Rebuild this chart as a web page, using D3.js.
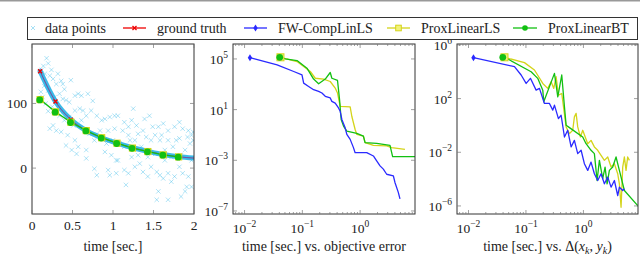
<!DOCTYPE html>
<html>
<head>
<meta charset="utf-8">
<script src="https://cdn.jsdelivr.net/npm/d3@7"></script>
<style>
  html, body { margin: 0; padding: 0; background: #fff; }
  svg { display: block; }
  svg text { font-family: 'Liberation Serif', 'DejaVu Serif', serif; }
</style>
</head>
<body>
<svg id="chart" width="640" height="255"></svg>
<script>
// ---- data ----
const legendNames = ['data points', 'ground truth', 'FW-CompLinLS', 'ProxLinearLS', 'ProxLinearBT'];

// left panel: noisy samples [time, value]
const dataPoints = [
  [0.18,170],[0.20,162],[0.14,158],[0.12,152],[0.24,152],[0.16,146],[0.22,143],[0.26,138],[0.32,146],[0.36,135],
  [0.30,130],[0.38,130],[0.48,136],[0.40,122],[0.34,115],[0.28,110],[0.20,120],[0.38,107],[0.42,105],[0.46,102],
  [0.53,112],[0.57,115],[0.61,112],[0.69,115],[0.75,104],[0.59,92],[0.63,89],[0.53,89],[0.67,81],[0.73,89],
  [0.80,81],[0.86,74],[0.90,76],[0.96,79],[1.02,81],[1.06,81],[1.14,71],[1.23,74],[1.25,92],[1.19,64],
  [1.29,66],[1.39,76],[1.45,81],[1.49,64],[1.56,64],[1.62,69],[1.68,58],[1.76,64],[1.82,71],[1.86,61],
  [1.93,58],[1.97,51],[1.99,56],[0.26,66],[0.22,61],[0.30,58],[0.36,56],[0.44,51],[0.42,35],[0.53,43],
  [0.49,28],[0.57,33],[0.67,28],[0.55,22],[0.67,15],[0.77,-1],[0.80,-11],[0.94,-3],[0.96,-11],[1.04,-8],
  [1.06,12],[1.14,-3],[1.19,-8],[1.16,-26],[1.27,2],[1.33,7],[1.37,-6],[1.43,-13],[1.47,2],[1.54,-6],
  [1.58,-11],[1.62,-16],[1.68,-8],[1.72,-21],[1.76,-13],[1.82,2],[1.86,-8],[1.93,-13],[1.97,-29],[1.91,-29],
  [1.56,-36],[1.54,-49],[1.68,-49],[1.84,-44],[1.89,-36],[0.34,81],[0.40,74],[0.46,79],[0.51,66],[0.61,74],
  [0.71,53],[0.77,43],[0.84,48],[0.92,38],[1.00,43],[1.08,38],[1.14,33],[1.21,43],[1.27,43],[1.35,33],
  [1.41,48],[1.47,43],[1.58,43],[1.64,28],[1.74,33],[1.78,43],[1.89,28],[1.95,38],[1.99,43],[0.90,25],
  [0.98,20],[1.04,12],[1.23,17],[1.31,20],[1.43,17],[1.52,22],[1.64,12],[1.72,17],[1.84,20],[1.97,12],
  [0.84,58],[0.94,58],[1.02,61],[1.12,58],[1.19,51],[1.31,53],[1.37,58],[1.52,51],[1.60,51],[1.68,43],
  [1.82,46],[1.92,48],[0.11,118],[0.15,127],[0.13,110],[0.17,100],[0.25,95],[0.20,88]
];
const truthTime  = [0.1, 0.29, 0.48, 0.67, 0.86, 1.05, 1.24, 1.43, 1.62, 1.81, 2.0];
const truthValue = [150, 103, 75, 58, 47, 38.5, 31.5, 26, 21, 17.5, 15.5];
const fitTime    = [0.1, 0.29, 0.48, 0.67, 0.86, 1.05, 1.24, 1.43, 1.62, 1.81];
const fitBTValue = [106, 87, 71, 58, 47, 38.5, 31, 25.6, 20.5, 17.4];

// middle panel: time vs objective error
const objFW = [[0.0124,1.26e5],[0.0366,3.39e4],[0.071,1.02e4],[0.0986,5.6e3],[0.1054,1.23e3],[0.1285,676],
  [0.1567,372],[0.1914,275],[0.2183,204],[0.2495,112],[0.3041,83],[0.3243,44.7],[0.3707,33],[0.4227,13.5],
  [0.4519,7.4],[0.4831,1.66],[0.5508,0.363],[0.5888,0.11],[0.673,0.0447],[0.767,0.01],[0.82,0.00398],
  [1.303,0.00398],[1.698,0.00219],[1.936,8.9e-4],[2.213,3.6e-4],[2.523,2.0e-4],[2.884,7.9e-5],[3.758,6.0e-5],
  [4.009,1.78e-5],[4.581,2.95e-6],[4.898,8.9e-7]];
const objLS = [[0.0418,1.35e5],[0.0809,6.2e4],[0.1374,1.02e4],[0.1675,3.0e3],[0.2333,2.57e3],[0.3041,1.66e3],
  [0.3707,501],[0.4064,204],[0.4519,18.2],[0.673,16.2],[0.718,3.0],[0.82,0.269],[0.877,0.11],[1.14,0.0813],
  [1.219,0.0245],[1.698,0.0151],[2.884,0.0135],[3.516,0.01],[5.97,0.0074]];
const objBT = [[0.0406,1.35e5],[0.0509,1.0e5],[0.0809,7.4e4],[0.1202,1.86e4],[0.1567,2.57e3],[0.1914,1.1e3],
  [0.2495,2.57e3],[0.3041,8.5e3],[0.3243,3.0e3],[0.4064,2.0e3],[0.4406,61.7],[0.4699,1.66],[0.5164,0.5],
  [0.5888,0.2],[0.877,0.135],[1.14,0.0813],[1.219,0.0245],[1.936,0.0219],[3.289,0.0151],[3.656,0.00195],
  [10,0.00195]];

// right panel: time vs Delta(x_k, y_k)
const dltFW = [[0.01222,1.12e5],[0.0631,2.4e4],[0.0824,5.75e3],[0.1007,1.35e3],[0.1197,3.24e3],[0.1503,427],
  [0.1718,575],[0.2099,43.7],[0.2564,43.7],[0.2931,13.8],[0.3133,32.4],[0.3673,3.24],[0.4093,5.75],
  [0.4677,0.138],[0.5333,0.437],[0.6109,0.0251],[0.6966,0.0776],[0.7962,0.00794],[0.912,0.0141],
  [1.04,0.00141],[1.189,4.47e-4],[1.358,0.00186],[1.552,2.51e-4],[1.774,7.9e-5],[2.028,2.51e-4],
  [2.317,4.47e-5],[2.649,1.41e-4],[3.027,2.51e-5],[3.459,7.9e-5],[3.954,6.0e-6],[4.227,2.51e-5],
  [4.831,1.41e-5],[5.164,1.9e-5]];
const dltLS = [[0.0423,1.2e5],[0.0942,4.8e4],[0.1406,1.35e4],[0.1963,1.35e3],[0.2393,575],[0.2742,1.82e3],
  [0.3048,575],[0.335,4.27e3],[0.3673,182],[0.4198,240],[0.5,0.776],[0.5715,0.245],[0.6516,0.437],
  [0.6966,4.37],[0.7464,7.94],[0.7962,0.776],[0.8872,0.138],[0.9727,0.437],[1.189,0.0437],[1.358,0.0776],
  [1.552,0.0251],[1.774,0.0141],[2.028,0.00589],[2.317,0.00251],[2.649,0.00447],[3.027,7.9e-4],
  [3.459,0.00141],[3.954,2.51e-4],[4.227,4.47e-5],[4.519,7.9e-7],[4.831,7.9e-4],[5.164,0.00447],
  [5.521,4.47e-4],[5.888,0.00447],[6.31,0.00251]];
const dltBT = [[0.0395,1.2e5],[0.0483,8.9e4],[0.123,1.0e4],[0.1603,3.24e3],[0.1963,427],[0.2042,57.5],
  [0.3133,7.6e3],[0.3581,135],[0.4198,5.75e3],[0.4677,24.5],[0.5,1.05],[0.5715,0.69],[0.9727,0.138],
  [1.112,0.0437],[1.358,0.0141],[1.552,0.00794],[1.73,7.9e-5],[1.897,0.00251],[2.168,1.07e-4],
  [2.382,7.9e-4],[2.582,4.47e-5],[2.831,4.47e-4],[3.236,7.9e-4],[3.698,0.00447],[4.227,4.47e-4],
  [5.164,1.41e-5],[8.81,1.07e-6],[10,5e-7]];

const linXTicks = [0, 0.5, 1, 1.5, 2];
const linXLabels = ['0', '0.5', '1', '1.5', '2'];
const linYTicks = [0, 100];
const logXTicks = [1e-2, 1e-1, 1e0];
const objYTicks = [1e5, 1e1, 1e-3, 1e-7];
const dltYTicks = [1e6, 1e2, 1e-2, 1e-6];

// ---- styling ----
const FONT = "'Liberation Serif', 'DejaVu Serif', serif";
const C = { cyan: '#2ab4e6', red: '#ee0000', blue: '#2a2aff', yellow: '#d4d41a', green: '#12c012', ink: '#222' };
const svg = d3.select('#chart').attr('font-family', FONT);
svg.append('rect').attr('width', 640).attr('height', 255).attr('fill', '#fff');
svg.append('rect').attr('width', 640).attr('height', 1.5).attr('fill', '#999');

const plotTop = 44, plotBottom = 214;
const panels = [
  { id: 'p1', left: 32, right: 194 },
  { id: 'p2', left: 233, right: 415 },
  { id: 'p3', left: 457, right: 638 }
];

const defs = svg.append('defs');
panels.forEach(p => {
  defs.append('clipPath').attr('id', 'clip-' + p.id)
    .append('rect').attr('x', p.left).attr('y', plotTop).attr('width', p.right - p.left).attr('height', plotBottom - plotTop);
});

const xLin = d3.scaleLinear().domain([0, 2]).range([panels[0].left, panels[0].right]);
const yLin = d3.scaleLinear().domain([-71, 192]).range([plotBottom, plotTop]);
const xLog2 = d3.scaleLog().domain([10 ** -2.2, 10 ** 0.95]).range([panels[1].left, panels[1].right]);
const yLog2 = d3.scaleLog().domain([10 ** -7.24, 10 ** 6.18]).range([plotBottom, plotTop]);
const xLog3 = d3.scaleLog().domain([10 ** -2.2, 10 ** 0.95]).range([panels[2].left, panels[2].right]);
const yLog3 = d3.scaleLog().domain([10 ** -6.6, 10 ** 6.07]).range([plotBottom, plotTop]);

const crossPath = s => `M${-s},${-s}L${s},${s}M${-s},${s}L${s},${-s}`;
const diamondPath = 'M0,-3.5L2.2,0L0,3.5L-2.2,0Z';

function label(x, y, anchor, size) {
  return svg.append('text').attr('x', x).attr('y', y).attr('text-anchor', anchor)
    .attr('font-family', FONT).attr('font-size', size).attr('fill', C.ink);
}

function powLabel(x, y, v, anchor) {
  const e = Math.round(Math.log10(v));
  const t = label(x, y, anchor, 13.5);
  t.append('tspan').text('10');
  t.append('tspan').attr('dy', -6).attr('font-size', 9.5).text(e < 0 ? '\u2212' + (-e) : String(e));
}

function tickMarks(p, xs, ys, xMinor) {
  const g = svg.append('g').attr('stroke', '#777').attr('stroke-width', 0.7);
  xMinor.forEach(v => {
    const x = xs(v);
    g.append('line').attr('x1', x).attr('x2', x).attr('y1', plotBottom).attr('y2', plotBottom - 2);
    g.append('line').attr('x1', x).attr('x2', x).attr('y1', plotTop).attr('y2', plotTop + 2);
  });
  p.xt.forEach(v => {
    const x = xs(v);
    g.append('line').attr('x1', x).attr('x2', x).attr('y1', plotBottom).attr('y2', plotBottom - 4);
    g.append('line').attr('x1', x).attr('x2', x).attr('y1', plotTop).attr('y2', plotTop + 4);
  });
  p.yt.forEach(v => {
    const y = ys(v);
    g.append('line').attr('x1', p.left).attr('x2', p.left + 4).attr('y1', y).attr('y2', y);
    g.append('line').attr('x1', p.right).attr('x2', p.right - 4).attr('y1', y).attr('y2', y);
  });
}

function frame(p) {
  svg.append('rect').attr('x', p.left).attr('y', plotTop).attr('width', p.right - p.left).attr('height', plotBottom - plotTop)
    .attr('fill', 'none').attr('stroke', '#333').attr('stroke-width', 1);
}

function series(gp, data, xs, ys, color, width) {
  gp.append('path').datum(data)
    .attr('d', d3.line().x(d => xs(d[0])).y(d => ys(d[1])))
    .attr('fill', 'none').attr('stroke', color).attr('stroke-width', width)
    .attr('stroke-linejoin', 'round');
}

// ---- panel 1 ----
{
  const p = Object.assign({}, panels[0], { xt: linXTicks, yt: linYTicks });
  const g = svg.append('g').attr('clip-path', 'url(#clip-p1)');
  g.append('g').selectAll('path').data(dataPoints).join('path')
    .attr('transform', d => `translate(${xLin(d[0])},${yLin(d[1])})`)
    .attr('d', crossPath(2.2)).attr('stroke', C.cyan).attr('stroke-opacity', 0.5).attr('stroke-width', 0.75);

  const truth = truthTime.map((t, i) => [t, truthValue[i]]);
  const smooth = d3.line().x(d => xLin(d[0])).y(d => yLin(d[1])).curve(d3.curveMonotoneX);
  g.append('path').datum(truth).attr('d', smooth).attr('fill', 'none')
    .attr('stroke', C.cyan).attr('stroke-width', 5).attr('stroke-opacity', 0.92).attr('stroke-linecap', 'round');
  g.append('path').datum(truth).attr('d', smooth).attr('fill', 'none')
    .attr('stroke', C.red).attr('stroke-width', 0.9).attr('stroke-opacity', 0.55);
  g.append('path').datum(truth).attr('d', smooth).attr('fill', 'none')
    .attr('stroke', C.blue).attr('stroke-width', 0.8).attr('stroke-opacity', 0.35);

  const bt = fitTime.map((t, i) => [t, fitBTValue[i]]);
  g.append('path').datum(bt).attr('d', d3.line().x(d => xLin(d[0])).y(d => yLin(d[1])))
    .attr('fill', 'none').attr('stroke', C.green).attr('stroke-width', 1.3);

  g.append('g').selectAll('path').data(truth.slice(0, 10)).join('path')
    .attr('transform', d => `translate(${xLin(d[0])},${yLin(d[1])})`)
    .attr('d', crossPath(2)).attr('stroke', C.red).attr('stroke-width', 1.4);

  g.append('g').selectAll('rect').data(bt).join('rect')
    .attr('x', d => xLin(d[0]) - 3.6).attr('y', d => yLin(d[1]) - 3.6)
    .attr('width', 7.2).attr('height', 7.2).attr('fill', C.yellow);
  g.append('g').selectAll('circle').data(bt).join('circle')
    .attr('cx', d => xLin(d[0]) - 0.4).attr('cy', d => yLin(d[1]) + 0.3).attr('r', 3.4).attr('fill', C.green);

  frame(p);
  tickMarks(p, xLin, yLin, []);
  linXTicks.forEach((v, i) => label(xLin(v), 230, 'middle', 13.5).text(linXLabels[i]));
  linYTicks.forEach(v => label(27, yLin(v) + 4.5, 'end', 13.5).text(String(v)));
  label((p.left + p.right) / 2, 251, 'middle', 14).text('time [sec.]');
}

// ---- log panels ----
function logPanel(idx, xs, ys, yt, fw, ls, bt, labelX) {
  const p = Object.assign({}, panels[idx], { xt: logXTicks, yt: yt });
  const g = svg.append('g').attr('clip-path', `url(#clip-${p.id})`);
  series(g, ls, xs, ys, C.yellow, 1.3);
  series(g, bt, xs, ys, C.green, 1.3);
  series(g, fw, xs, ys, C.blue, 1.3);
  g.append('rect').attr('x', xs(ls[0][0]) - 3.5).attr('y', ys(ls[0][1]) - 3.5).attr('width', 7).attr('height', 7)
    .attr('fill', '#f2f27a').attr('stroke', C.yellow).attr('stroke-width', 1);
  g.append('circle').attr('cx', xs(bt[0][0])).attr('cy', ys(bt[0][1])).attr('r', 3.4).attr('fill', C.green);
  g.append('path').attr('transform', `translate(${xs(fw[0][0])},${ys(fw[0][1])})`)
    .attr('d', diamondPath).attr('fill', C.blue);

  frame(p);
  const minor = xs.ticks().filter(v => Math.abs(Math.log10(v) - Math.round(Math.log10(v))) > 1e-6);
  tickMarks(p, xs, ys, minor);
  logXTicks.forEach(v => powLabel(xs(v), 233, v, 'middle'));
  yt.forEach(v => powLabel(labelX, ys(v) + 5, v, 'end'));
}

logPanel(1, xLog2, yLog2, objYTicks, objFW, objLS, objBT, 228);
label((panels[1].left + panels[1].right) / 2, 251, 'middle', 14).text('time [sec.] vs. objective error');

logPanel(2, xLog3, yLog3, dltYTicks, dltFW, dltLS, dltBT, 452);
{
  const t = label((panels[2].left + panels[2].right) / 2, 251, 'middle', 14);
  t.append('tspan').text('time [sec.] vs. \u0394(');
  t.append('tspan').attr('font-style', 'italic').text('x');
  t.append('tspan').attr('font-style', 'italic').attr('font-size', 10).attr('dy', 3).text('k');
  t.append('tspan').attr('dy', -3).text(', ');
  t.append('tspan').attr('font-style', 'italic').text('y');
  t.append('tspan').attr('font-style', 'italic').attr('font-size', 10).attr('dy', 3).text('k');
  t.append('tspan').attr('dy', -3).text(')');
}

// ---- legend ----
{
  const ly = 28;
  svg.append('rect').attr('x', 27.5).attr('y', 17.5).attr('width', 610).attr('height', 22)
    .attr('fill', '#fff').attr('stroke', '#333').attr('stroke-width', 1);
  const entries = [
    { marker: 33, line: null, text: 45 },
    { marker: 134.5, line: [123, 146], text: 157 },
    { marker: 255.5, line: [244, 267], text: 278 },
    { marker: 398.5, line: [387, 410], text: 421 },
    { marker: 525, line: [513, 537], text: 548 }
  ];
  const colors = [C.cyan, C.red, C.blue, C.yellow, C.green];
  entries.forEach((e, i) => {
    if (e.line) {
      svg.append('line').attr('x1', e.line[0]).attr('x2', e.line[1]).attr('y1', ly).attr('y2', ly)
        .attr('stroke', colors[i]).attr('stroke-width', 1.3);
    }
    const m = svg.append('g').attr('transform', `translate(${e.marker},${ly})`);
    if (i === 0) m.append('path').attr('d', crossPath(2)).attr('stroke', C.cyan).attr('stroke-opacity', 0.6).attr('stroke-width', 0.7);
    if (i === 1) m.append('path').attr('d', crossPath(2)).attr('stroke', C.red).attr('stroke-width', 1.3);
    if (i === 2) m.append('path').attr('d', diamondPath).attr('fill', C.blue);
    if (i === 3) m.append('rect').attr('x', -2.8).attr('y', -2.8).attr('width', 5.6).attr('height', 5.6)
      .attr('fill', '#f2f27a').attr('stroke', C.yellow).attr('stroke-width', 1);
    if (i === 4) m.append('circle').attr('r', 2.8).attr('fill', C.green);
    label(e.text, ly + 4.5, 'start', 14).text(legendNames[i]);
  });
}
</script>
</body>
</html>
